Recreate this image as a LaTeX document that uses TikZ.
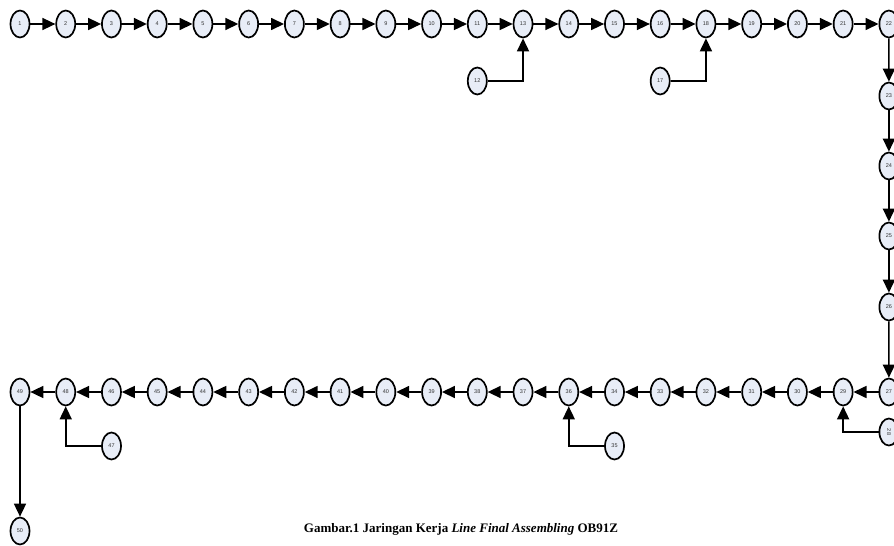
\documentclass[tikz,border=0pt]{standalone}
\usepackage{fontspec}
\setmainfont{Liberation Serif}
\newfontfamily\lblfont{Liberation Sans}
\usetikzlibrary{arrows.meta,shapes.geometric}
\definecolor{nodefill}{HTML}{E8EDF7}
\definecolor{lblcol}{HTML}{333333}
\begin{document}
\begin{tikzpicture}[x=1pt,y=-1pt,
  job/.style={ellipse,draw=black,line width=1.7pt,fill=nodefill,minimum width=19pt,minimum height=27pt,inner sep=0pt,font=\lblfont\fontsize{5.5}{6}\selectfont,text=lblcol},
  flow/.style={line width=1.6pt,-{Triangle[length=13pt,width=12pt]}}]
\useasboundingbox (0,0) rectangle (894,546);
% top row
\foreach \lab [count=\i from 0] in {1,2,3,4,5,6,7,8,9,10,11,13,14,15,16,18,19,20,21,22}
  \node[job] (n\lab) at ({20+45.73*\i},24) {\lab};
% bottom row
\foreach \lab [count=\i from 0] in {49,48,46,45,44,43,42,41,40,39,38,37,36,34,33,32,31,30,29,27}
  \node[job] (n\lab) at ({20+45.73*\i},392) {\lab};
% right column
\node[job] (n23) at (888.9,96) {23};
\node[job] (n24) at (888.9,166) {24};
\node[job] (n25) at (888.9,236) {25};
\node[job] (n26) at (888.9,307) {26};
\node[job] (n28) at (888.9,432) {\rotatebox{-90}{28}};
% side nodes
\node[job] (n12) at (477.3,81) {12};
\node[job] (n17) at (660.2,81) {17};
\node[job] (n47) at (111.5,446) {47};
\node[job] (n35) at (614.5,446) {35};
\node[job] (n50) at (20,531) {50};
% chain arrows
\foreach \a/\b in {1/2,2/3,3/4,4/5,5/6,6/7,7/8,8/9,9/10,10/11,11/13,13/14,14/15,15/16,16/18,18/19,19/20,20/21,21/22,
  22/23,23/24,24/25,25/26,26/27,
  27/29,29/30,30/31,31/32,32/33,33/34,34/36,36/37,37/38,38/39,39/40,40/41,41/42,42/43,43/44,44/45,45/46,46/48,48/49,49/50}
  \draw[flow] (n\a) -- (n\b);
% branch arrows
\draw[flow] (n12) -| (n13);
\draw[flow] (n17) -| (n18);
\draw[flow] (n28) -| (n29);
\draw[flow] (n35) -| (n36);
\draw[flow] (n47) -| (n48);
% caption
\node[font=\fontsize{13}{15}\selectfont\bfseries] (cap) at (461,529) {Gambar.1 Jaringan Kerja \textit{Line Final Assembling} OB91Z};
\end{tikzpicture}
\end{document}
